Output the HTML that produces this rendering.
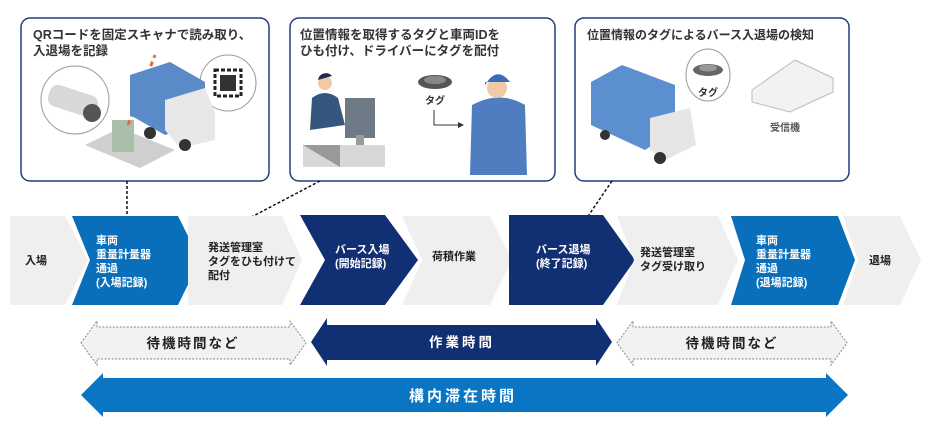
<!DOCTYPE html>
<html><head><meta charset="utf-8"><style>
html,body{margin:0;padding:0;background:#fff;}
svg{display:block;}
text{font-family:"Liberation Sans","Noto Sans CJK JP",sans-serif;font-weight:bold;}
</style></head><body>
<svg width="929" height="433" viewBox="0 0 929 433" xmlns="http://www.w3.org/2000/svg">
<!-- callout boxes -->
<rect x="21" y="18" width="248" height="163" rx="9" fill="#fff" stroke="#1f3f7a" stroke-width="1.5"/>
<rect x="290" y="18" width="265" height="163" rx="9" fill="#fff" stroke="#1f3f7a" stroke-width="1.5"/>
<rect x="575" y="18" width="274" height="163" rx="9" fill="#fff" stroke="#1f3f7a" stroke-width="1.5"/>
<text x="33" y="39" font-size="12.5" fill="#333">QRコードを固定スキャナで読み取り、</text>
<text x="33" y="55" font-size="12.5" fill="#333">入退場を記録</text>
<text x="300" y="39" font-size="12.5" fill="#333">位置情報を取得するタグと車両IDを</text>
<text x="300" y="55" font-size="12.5" fill="#333">ひも付け、ドライバーにタグを配付</text>
<text x="587" y="39" font-size="12" fill="#333">位置情報のタグによるバース入退場の検知</text>

<!-- box1 illustrations -->
<circle cx="75" cy="100" r="34" fill="#fff" stroke="#999"/>
<rect x="48" y="90" width="50" height="22" rx="8" fill="#d8d8d8" transform="rotate(18 73 101)"/>
<circle cx="92" cy="113" r="9" fill="#555"/>
<circle cx="228" cy="83" r="28" fill="#fff" stroke="#999"/>
<rect x="215" y="70" width="26" height="26" fill="#fff" stroke="#222" stroke-width="3" stroke-dasharray="4 2"/>
<rect x="220" y="75" width="16" height="16" fill="#333"/>
<polygon points="85,145 120,128 175,150 140,168" fill="#cfcfcf"/>
<rect x="112" y="120" width="22" height="32" fill="#a9bfa9"/>
<line x1="128" y1="125" x2="155" y2="55" stroke="#e06a4a" stroke-width="3" stroke-dasharray="5 4"/>
<polygon points="130,75 170,62 205,82 205,120 165,135 130,115" fill="#5a8ac8"/>
<polygon points="165,100 205,88 215,112 215,140 180,148 165,130" fill="#e8e8e8"/>
<circle cx="185" cy="145" r="6" fill="#333"/>
<circle cx="150" cy="133" r="6" fill="#333"/>

<!-- box2 illustrations -->
<rect x="303" y="145" width="82" height="22" fill="#d8d8d8"/>
<polygon points="303,145 340,145 340,167" fill="#999"/>
<circle cx="325" cy="83" r="7" fill="#f1c9a5"/>
<path d="M318 80 a8 8 0 0 1 14 -4 z" fill="#1d2f4d"/>
<path d="M310 130 L312 98 Q325 88 338 98 L345 125 Z" fill="#36577d"/>
<rect x="345" y="98" width="30" height="40" fill="#6e7b86"/>
<rect x="356" y="135" width="8" height="10" fill="#999"/>
<ellipse cx="435" cy="82" rx="17" ry="7" fill="#555"/>
<ellipse cx="435" cy="80" rx="11" ry="4" fill="#888"/>
<text x="425" y="104" font-size="10" fill="#333" font-weight="normal">タグ</text>
<path d="M434 110 V125 H458" stroke="#333" fill="none"/>
<polygon points="458,122 464,125 458,128" fill="#333"/>
<path d="M470 175 L472 105 Q500 90 525 105 L527 175 Z" fill="#4f7dc0"/>
<circle cx="497" cy="88" r="10" fill="#f1c9a5"/>
<path d="M485 85 Q497 65 510 82 L485 82 Z" fill="#3a6db5"/>

<!-- box3 illustrations -->
<polygon points="591,82 622,65 675,85 675,130 645,150 591,125" fill="#5b8fd0"/>
<polygon points="650,118 690,108 696,145 665,160 650,150" fill="#e6e6e6"/>
<circle cx="660" cy="158" r="6" fill="#333"/>
<circle cx="605" cy="135" r="5" fill="#333"/>
<ellipse cx="708" cy="75" rx="22" ry="26" fill="#fff" stroke="#999"/>
<ellipse cx="708" cy="70" rx="15" ry="6" fill="#666"/>
<ellipse cx="708" cy="68" rx="9" ry="3.5" fill="#999"/>
<text x="698" y="96" font-size="10" fill="#333" font-weight="normal">タグ</text>
<polygon points="752,90 795,60 833,78 833,92 790,112 752,102" fill="#f2f2f2" stroke="#bbb"/>
<text x="770" y="131" font-size="10" fill="#555" font-weight="normal">受信機</text>

<!-- connectors -->
<line x1="127" y1="181" x2="127" y2="223" stroke="#111" stroke-width="1.5" stroke-dasharray="3 2"/>
<circle cx="127" cy="223" r="2.5" fill="#111"/>
<line x1="320" y1="181" x2="240" y2="223" stroke="#111" stroke-width="1.5" stroke-dasharray="3 2"/>
<circle cx="240" cy="223" r="2.5" fill="#111"/>
<line x1="612" y1="181" x2="584" y2="222" stroke="#111" stroke-width="1.5" stroke-dasharray="3 2"/>
<circle cx="584" cy="222" r="2.5" fill="#111"/>

<!-- chevron row -->
<polygon points="10,216 65,216 88,260 65,305 10,305" fill="#efefef"/>
<polygon points="72,216 178,216 200,260 178,305 72,305 90,260" fill="#0a6fba"/>
<polygon points="188,216 282,216 302,260 282,305 188,305" fill="#efefef"/>
<polygon points="300,215 385,215 418,260 385,305 300,305 325,260" fill="#112f73"/>
<polygon points="402,216 490,216 512,260 490,305 402,305 422,260" fill="#efefef"/>
<polygon points="509,215 603,215 635,260 603,305 509,305" fill="#112f73"/>
<polygon points="617,216 718,216 738,260 718,305 617,305 634,260" fill="#efefef"/>
<polygon points="731,216 838,216 855,260 838,305 731,305 745,260" fill="#0a6fba"/>
<polygon points="843,216 900,216 921,260 900,305 843,305 858,260" fill="#efefef"/>

<text x="25" y="264" font-size="11" fill="#222">入場</text>
<g font-size="11" fill="#fff"><text x="96" y="244">車両</text><text x="96" y="258">重量計量器</text><text x="96" y="272">通過</text><text x="96" y="286">(入場記録)</text></g>
<g font-size="11" fill="#222"><text x="208" y="251">発送管理室</text><text x="208" y="265">タグをひも付けて</text><text x="208" y="279">配付</text></g>
<g font-size="11" fill="#fff"><text x="335" y="253">バース入場</text><text x="335" y="267">(開始記録)</text></g>
<text x="432" y="260" font-size="11" fill="#222">荷積作業</text>
<g font-size="11" fill="#fff"><text x="536" y="253">バース退場</text><text x="536" y="267">(終了記録)</text></g>
<g font-size="11" fill="#222"><text x="640" y="256">発送管理室</text><text x="640" y="270">タグ受け取り</text></g>
<g font-size="11" fill="#fff"><text x="756" y="244">車両</text><text x="756" y="258">重量計量器</text><text x="756" y="272">通過</text><text x="756" y="286">(退場記録)</text></g>
<text x="869" y="264" font-size="11" fill="#222">退場</text>

<!-- arrows row 1 -->
<polygon points="81,343 97,321 97,327 290,327 290,321 306,343 290,365 290,359 97,359 97,365" fill="#f2f2f2" stroke="#888" stroke-dasharray="2 1.5"/>
<text x="193" y="348" font-size="13.5" fill="#222" text-anchor="middle" letter-spacing="2">待機時間など</text>
<polygon points="311,342 327,318 327,325 596,325 596,318 612,342 596,366 596,360 327,360 327,366" fill="#112f73"/>
<text x="462" y="347" font-size="13.5" fill="#fff" text-anchor="middle" letter-spacing="3">作業時間</text>
<polygon points="617,343 633,321 633,327 831,327 831,321 847,343 831,365 831,359 633,359 633,365" fill="#f2f2f2" stroke="#888" stroke-dasharray="2 1.5"/>
<text x="732" y="348" font-size="13.5" fill="#222" text-anchor="middle" letter-spacing="2">待機時間など</text>

<!-- arrow row 2 -->
<polygon points="81,395 103,373 103,378 826,378 826,373 848,395 826,417 826,412 103,412 103,417" fill="#0a76c3"/>
<text x="463" y="401" font-size="15" fill="#fff" text-anchor="middle" letter-spacing="3">構内滞在時間</text>
</svg>
</body></html>
